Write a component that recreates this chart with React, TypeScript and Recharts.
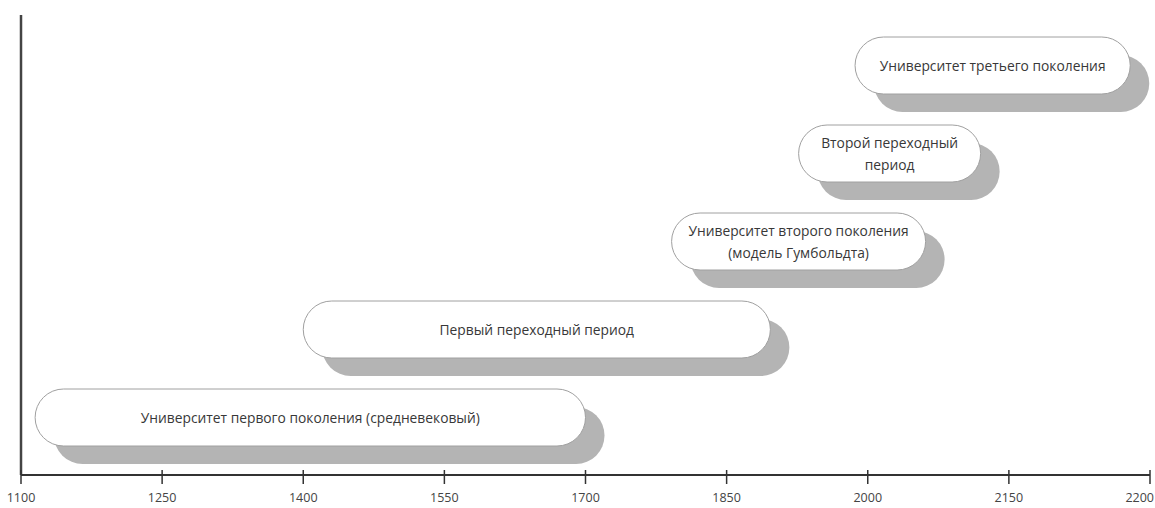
import { BarChart, Bar, XAxis, YAxis, ReferenceLine } from "recharts";

// axis ticks are equally spaced, so positions are in tick-index units
const TICK_LABELS = ["1100", "1250", "1400", "1550", "1700", "1850", "2000", "2150", "2200"];
const TICK_POS = [0, 1, 2, 3, 4, 5, 6, 7, 8];

const STAGE_LINES = [
  ["Университет первого поколения (средневековый)"],
  ["Первый переходный период"],
  ["Университет второго поколения", "(модель Гумбольдта)"],
  ["Второй переходный", "период"],
  ["Университет третьего поколения"],
];
const STAGE_START = [0.1, 2.0, 4.61, 5.51, 5.91];
const STAGE_END = [4.0, 5.31, 6.41, 6.8, 7.86];

const data = STAGE_LINES.map((lines, i) => ({
  name: `stage${i}`,
  lines,
  span: [STAGE_START[i], STAGE_END[i]],
}));

function Pill(props: any) {
  const { x, y, width, height } = props;
  const lines: string[] = props.payload?.lines ?? props.lines ?? [];
  const r = height / 2;
  const cx = x + width / 2;
  const cy = y + height / 2;
  const lh = 22;
  const top = cy - ((lines.length - 1) * lh) / 2;
  return (
    <g>
      <rect x={x + 19} y={y + 18} width={width} height={height} rx={r} ry={r} fill="#b4b4b4" />
      <rect x={x} y={y} width={width} height={height} rx={r} ry={r} fill="#fff" stroke="#a0a0a0" strokeWidth={1} />
      {lines.map((t, i) => (
        <text
          key={i}
          x={cx}
          y={top + i * lh}
          textAnchor="middle"
          dominantBaseline="central"
          fontFamily="'Open Sans', sans-serif"
          fontSize={13.8}
          fill="#383838"
        >
          {t}
        </text>
      ))}
    </g>
  );
}

function YearTick(props: any) {
  const { x, y, payload } = props;
  const last = payload.value === TICK_POS[TICK_POS.length - 1];
  return (
    <g>
      <line x1={x} x2={x} y1={y - 5} y2={y + 9} stroke="#333" strokeWidth={1.5} />
      <text
        x={last ? x + 4 : x}
        y={y + 27}
        textAnchor={last ? "end" : "middle"}
        fontFamily="'Open Sans', sans-serif"
        fontSize={12.5}
        fill="#444"
      >
        {TICK_LABELS[payload.value]}
      </text>
    </g>
  );
}

export default function App() {
  return (
    <div style={{ position: "absolute", left: 0, top: 0, background: "#fff" }}>
      <BarChart
        width={1155}
        height={508}
        data={data}
        layout="vertical"
        margin={{ top: 15, right: 5, bottom: 0, left: 21 }}
      >
        <XAxis
          type="number"
          domain={[0, 8]}
          ticks={TICK_POS}
          interval={0}
          allowDataOverflow
          height={33}
          tickSize={0}
          tickMargin={0}
          tickLine={false}
          axisLine={{ stroke: "#333", strokeWidth: 2 }}
          tick={<YearTick />}
        />
        <YAxis
          type="category"
          dataKey="name"
          reversed
          width={0}
          tick={false}
          tickLine={false}
          axisLine={false}
          padding={{ top: 6, bottom: 14 }}
        />
        <ReferenceLine x={0} stroke="#444" strokeWidth={2.5} />
        <Bar dataKey="span" barSize={57} shape={<Pill />} isAnimationActive={false} />
      </BarChart>
    </div>
  );
}
